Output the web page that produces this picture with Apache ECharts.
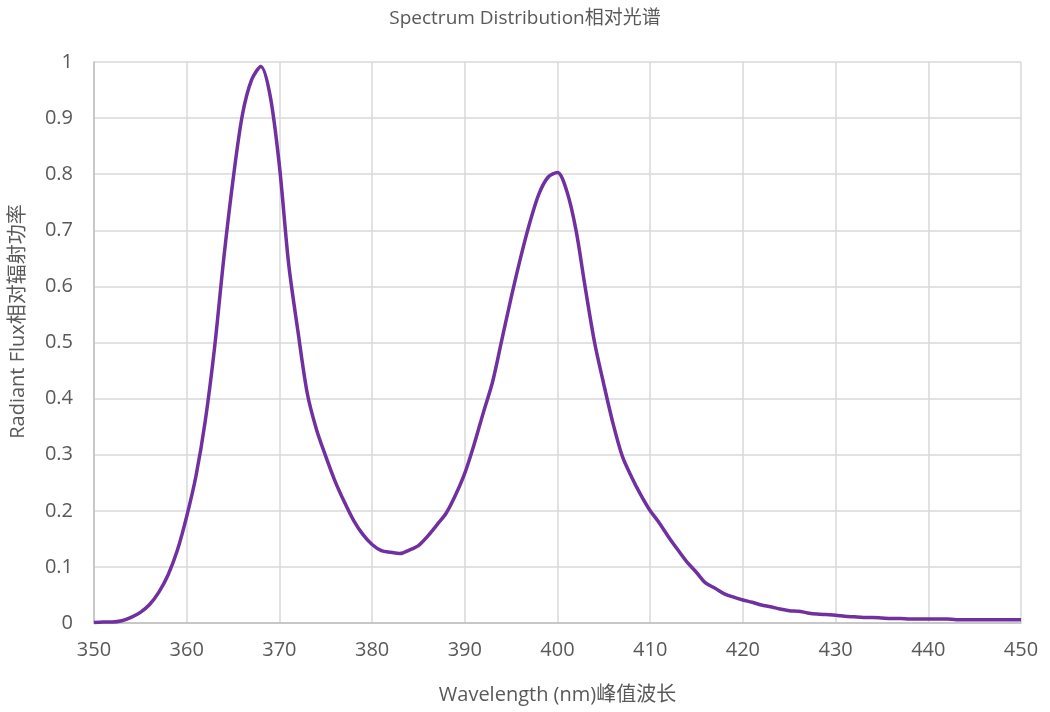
<!DOCTYPE html>
<html>
<head>
<meta charset="utf-8">
<title>Spectrum Distribution</title>
<script src="https://cdn.jsdelivr.net/npm/echarts@6/dist/echarts.min.js"></script>
<style>
  html, body { margin: 0; padding: 0; background: #fff; }
  #chart { width: 1050px; height: 712px; }
</style>
</head>
<body>
<div id="chart"></div>
<script>
// wavelength in nm, 1 nm steps
const wavelengths = [];
for (let w = 350; w <= 450; w++) wavelengths.push(w);

// relative radiant flux
const flux = [
  0.001, 0.002, 0.002, 0.004, 0.010, 0.019, 0.033, 0.055, 0.086, 0.130, // 350-359
  0.190, 0.262, 0.360, 0.490, 0.650, 0.790, 0.905, 0.968, 0.992, 0.940, // 360-369
  0.815, 0.640, 0.520, 0.410, 0.345, 0.297, 0.253, 0.216, 0.183, 0.158, // 370-379
  0.140, 0.129, 0.126, 0.124, 0.130, 0.138, 0.155, 0.175, 0.196, 0.228, // 380-389
  0.267, 0.318, 0.375, 0.430, 0.505, 0.580, 0.650, 0.713, 0.765, 0.795, // 390-399
  0.803, 0.770, 0.700, 0.597, 0.500, 0.425, 0.355, 0.297, 0.260, 0.228, // 400-409
  0.200, 0.178, 0.153, 0.130, 0.108, 0.090, 0.071, 0.062, 0.052, 0.046, // 410-419
  0.041, 0.037, 0.032, 0.029, 0.025, 0.022, 0.021, 0.018, 0.016, 0.015, // 420-429
  0.014, 0.012, 0.011, 0.010, 0.010, 0.009, 0.008, 0.008, 0.007, 0.007, // 430-439
  0.007, 0.007, 0.007, 0.006, 0.006, 0.006, 0.006, 0.006, 0.006, 0.006, // 440-449
  0.006                                                                   // 450
];

const xTicks = [350, 450, 10];
const yTicks = [0, 1, 0.1];

const FONT = '"Open Sans", "Noto Sans CJK SC", sans-serif';
const textGray = '#595959';
const gridGray = '#d9d9d9';
const axisGray = '#bfbfbf';

const chart = echarts.init(document.getElementById('chart'), null, { renderer: 'canvas' });

chart.setOption({
  animation: false,
  title: {
    text: 'Spectrum Distribution相对光谱',
    left: 'center',
    top: 4,
    textStyle: { fontFamily: FONT, fontSize: 19, fontWeight: 'normal', color: textGray },
  },
  grid: { left: 94, right: 29, top: 62, bottom: 89, containLabel: false, outerBoundsMode: 'none' },
  xAxis: {
    type: 'value',
    min: xTicks[0],
    max: xTicks[1],
    interval: xTicks[2],
    name: 'Wavelength (nm)峰值波长',
    nameLocation: 'middle',
    nameGap: 62,
    nameTextStyle: { fontFamily: FONT, fontSize: 20, color: textGray },
    axisLine: { show: true, lineStyle: { color: axisGray, width: 1.5 } },
    axisTick: { show: false },
    axisLabel: { fontFamily: FONT, fontSize: 20, color: textGray, margin: 17 },
    splitLine: { show: true, lineStyle: { color: gridGray, width: 1.5 } },
  },
  yAxis: {
    type: 'value',
    min: yTicks[0],
    max: yTicks[1],
    interval: yTicks[2],
    name: 'Radiant Flux相对辐射功率',
    nameLocation: 'middle',
    nameGap: 66,
    nameRotate: 90,
    nameTextStyle: { fontFamily: FONT, fontSize: 20, color: textGray, padding: [0, 0, 0, 42] },
    axisLine: { show: true, lineStyle: { color: axisGray, width: 1.5 } },
    axisTick: { show: false },
    axisLabel: {
      fontFamily: FONT, fontSize: 20, color: textGray, margin: 21,
      formatter: (v) => String(Math.round(v * 10) / 10),
    },
    splitLine: { show: true, lineStyle: { color: gridGray, width: 1.5 } },
  },
  series: [{
    type: 'line',
    data: wavelengths.map((w, i) => [w, flux[i]]),
    smooth: 0.3,
    showSymbol: false,
    lineStyle: { color: '#7030a0', width: 3.5 },
  }],
});
</script>
</body>
</html>
